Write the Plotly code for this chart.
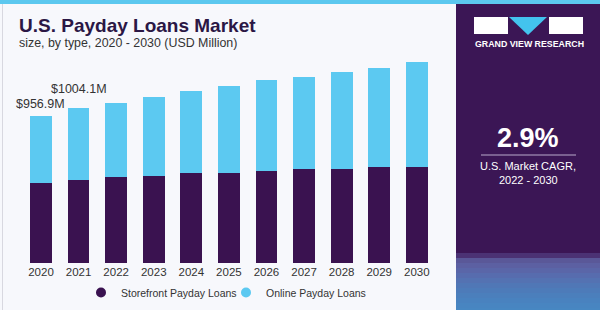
import plotly.graph_objects as go

years = ["2020", "2021", "2022", "2023", "2024", "2025", "2026", "2027", "2028", "2029", "2030"]
storefront = [521, 539, 556, 563, 585, 585, 600, 613, 613, 624, 624]
online = [435.9, 465.1, 485, 515, 532, 565, 589, 595, 630, 645, 680]
totals = [s + o for s, o in zip(storefront, online)]
label_idx = [0, 1]
label_text = ["$956.9M", "$1004.1M"]

c_store = "#3a1250"
c_online = "#5cc9f1"
sans = "Liberation Sans, Arial, sans-serif"

fig = go.Figure()
fig.add_trace(go.Bar(x=years, y=storefront, marker=dict(color=c_store, line=dict(width=0)),
                     name="Storefront Payday Loans", showlegend=False))
fig.add_trace(go.Bar(x=years, y=online, marker=dict(color=c_online, line=dict(width=0)),
                     name="Online Payday Loans", showlegend=False))
# legend entries with round markers (no visible data)
fig.add_trace(go.Scatter(x=[years[0]], y=[-1000], mode="markers", name="Storefront Payday Loans",
                         marker=dict(color=c_store, size=10, symbol="circle")))
fig.add_trace(go.Scatter(x=[years[0]], y=[-1000], mode="markers", name="Online Payday Loans",
                         marker=dict(color=c_online, size=10, symbol="circle")))

label_yshift = [3, 10]
annotations = []
for k, (i, t) in enumerate(zip(label_idx, label_text)):
    annotations.append(dict(x=i, y=totals[i], xref="x", yref="y", text=t, showarrow=False,
                            yanchor="bottom", yshift=label_yshift[k],
                            font=dict(size=12.5, color="#333333", family=sans)))

annotations += [
    dict(x=17/600, y=1-25/310, xref="paper", yref="paper", xanchor="left", yanchor="middle",
         text="<b>U.S. Payday Loans Market</b>", showarrow=False,
         font=dict(size=19, color="#2b1745", family=sans)),
    dict(x=17/600, y=1-43/310, xref="paper", yref="paper", xanchor="left", yanchor="middle",
         text="size, by type, 2020 - 2030 (USD Million)", showarrow=False,
         font=dict(size=12.4, color="#333333", family=sans)),
    dict(x=529/600, y=1-44/310, xref="paper", yref="paper", xanchor="center", yanchor="middle",
         text="<b>GRAND VIEW RESEARCH</b>", showarrow=False,
         font=dict(size=8.8, color="#ffffff", family=sans)),
    dict(x=528/600, y=1-138/310, xref="paper", yref="paper", xanchor="center", yanchor="middle",
         text="<b>2.9%</b>", showarrow=False,
         font=dict(size=27, color="#ffffff", family=sans)),
    dict(x=528/600, y=1-166/310, xref="paper", yref="paper", xanchor="center", yanchor="middle",
         text="U.S. Market CAGR,", showarrow=False,
         font=dict(size=11, color="#ffffff", family=sans)),
    dict(x=528/600, y=1-180/310, xref="paper", yref="paper", xanchor="center", yanchor="middle",
         text="2022 - 2030", showarrow=False,
         font=dict(size=11, color="#ffffff", family=sans)),
]

def px(x0, y0, x1, y1, color, layer="below"):
    return dict(type="rect", xref="paper", yref="paper", x0=x0/600, x1=x1/600,
                y0=1-y1/310, y1=1-y0/310, fillcolor=color, line=dict(width=0), layer=layer)

shapes = [
    px(0, 0, 600, 310, "#f7f8fc"),
    px(0, 0, 600, 4, "#5cc8ef"),
    dict(type="line", xref="paper", yref="paper", x0=2.5/600, x1=2.5/600, y0=0, y1=1-4/310,
         line=dict(color="#d8d8e0", width=1), layer="below"),
    px(456, 4, 600, 310, "#3b1655"),
]
# gradient-ish bottom of panel
bands = ["#4b3274", "#5a5898", "#5c60a2", "#5a66a8", "#576cae", "#5472b2", "#5077b6", "#4d7bb9",
         "#4b7fbc", "#4982bf", "#4885c1", "#4787c2"]
y = 253
for c in bands:
    shapes.append(px(456, y, 600, min(y + 5, 310), c))
    y += 5
# logo
shapes += [
    px(474, 17, 508, 34, "#ffffff", layer="above"),
    px(549, 17, 583, 34, "#ffffff", layer="above"),
    dict(type="path", xref="paper", yref="paper",
         path=f"M {509/600},{1-17/310} L {547/600},{1-17/310} L {528/600},{1-35/310} Z",
         fillcolor="#43c3ee", line=dict(width=0), layer="above"),
    dict(type="line", xref="paper", yref="paper", x0=481/600, x1=576/600, y0=1-155/310, y1=1-155/310,
         line=dict(color="#b9a9cc", width=1.2), layer="above"),
]

fig.update_layout(
    width=600, height=310, margin=dict(l=0, r=0, t=0, b=0, autoexpand=False),
    paper_bgcolor="#f7f8fc", plot_bgcolor="rgba(0,0,0,0)",
    barmode="stack", bargap=0.42,
    xaxis=dict(type="category", categoryorder="array", categoryarray=years, range=[-0.5, 10.5],
               domain=[22.2/600, 435.6/600], showgrid=False, zeroline=False, showline=False,
               ticks="", tickfont=dict(size=11.5, color="#333333", family=sans), fixedrange=True),
    yaxis=dict(domain=[1-263/310, 1-40/310], range=[0, 1449], visible=False, showgrid=False),
    legend=dict(orientation="h", x=81/600, y=1-278/310, xanchor="left", yanchor="top",
                traceorder="normal",
                font=dict(size=10.5, color="#333333", family=sans), bgcolor="rgba(0,0,0,0)",
                entrywidth=100, entrywidthmode="pixels"),
    annotations=annotations, shapes=shapes, showlegend=True,
)

fig.write_html("out.html")
